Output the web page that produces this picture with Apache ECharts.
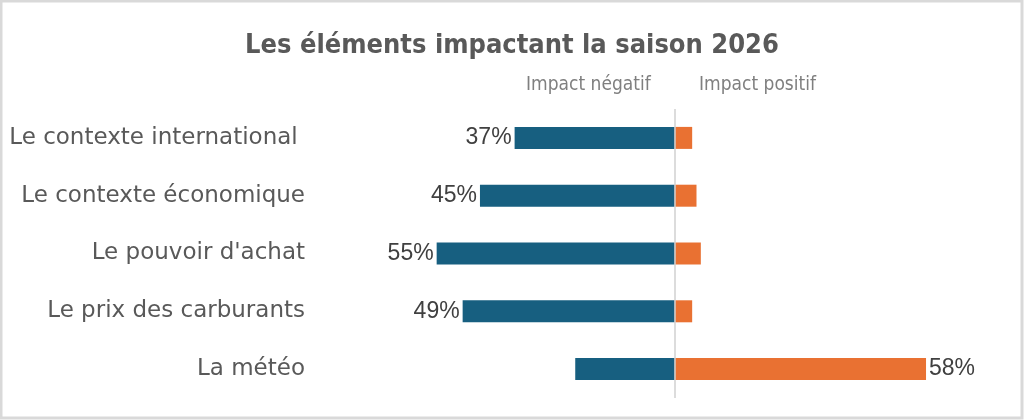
<!DOCTYPE html>
<html>
<head>
<meta charset="utf-8">
<script src="https://cdn.jsdelivr.net/npm/echarts@6/dist/echarts.min.js"></script>
<style>
  html, body { margin: 0; padding: 0; background: #fff; }
  #chart { width: 1024px; height: 420px; }
</style>
</head>
<body>
<div id="chart"></div>
<script>
// données
var categories = ['Le contexte international ', 'Le contexte économique', 'Le pouvoir d\'achat', 'Le prix des carburants', 'La météo'];
var negatifs = [37, 45, 55, 49, 23];
var positifs = [4, 5, 6, 4, 58];
// quelles étiquettes sont affichées
var etiquetteNeg = [true, true, true, true, false];
var etiquettePos = [false, false, false, false, true];

var chart = echarts.init(document.getElementById('chart'));

function pct(p) {
  return Math.abs(p.value) + '%';
}

chart.setOption({
  animation: false,
  backgroundColor: '#ffffff',
  title: [{
    text: 'Les éléments impactant la saison 2026',
    left: 'center',
    top: 32,
    padding: 0,
    textStyle: { fontFamily: 'DejaVu Sans Condensed', fontWeight: 'bold', fontSize: 27, color: '#595959' }
  }, {
    text: 'Impact négatif',
    left: 526,
    top: 76,
    padding: 0,
    textStyle: { fontFamily: 'DejaVu Sans Condensed', fontWeight: 'normal', fontSize: 19, color: '#7f7f7f' }
  }, {
    text: 'Impact positif',
    left: 699,
    top: 76,
    padding: 0,
    textStyle: { fontFamily: 'DejaVu Sans Condensed', fontWeight: 'normal', fontSize: 19, color: '#7f7f7f' }
  }],
  graphic: [{
    type: 'rect',
    shape: { x: 1, y: 1, width: 1021, height: 417 },
    style: { fill: 'none', stroke: '#d9d9d9', lineWidth: 3 },
    silent: true
  }],
  grid: { left: 415, right: 46, top: 109, bottom: 22 },
  xAxis: {
    type: 'value',
    min: -60,
    max: 70,
    show: false
  },
  yAxis: {
    type: 'category',
    data: categories,
    inverse: true,
    axisLine: { show: false },
    axisTick: { show: false },
    axisLabel: {
      margin: 110,
      fontFamily: 'DejaVu Sans',
      fontSize: 23,
      color: '#595959'
    }
  },
  series: [{
    name: 'Impact négatif',
    type: 'bar',
    stack: 'impact',
    barWidth: 22,
    itemStyle: { color: '#175f80' },
    label: {
      position: 'left',
      distance: 3,
      formatter: pct,
      fontFamily: 'Liberation Sans',
      fontSize: 23,
      color: '#404040'
    },
    data: negatifs.map(function (v, i) {
      return { value: -v, label: { show: etiquetteNeg[i] } };
    }),
    markLine: {
      silent: true,
      symbol: 'none',
      label: { show: false },
      lineStyle: { color: '#d0d0d0', width: 1.5, type: 'solid' },
      data: [{ xAxis: 0 }]
    }
  }, {
    name: 'Impact positif',
    type: 'bar',
    stack: 'impact',
    barWidth: 22,
    itemStyle: { color: '#e97132' },
    label: {
      position: 'right',
      distance: 3,
      formatter: pct,
      fontFamily: 'Liberation Sans',
      fontSize: 23,
      color: '#404040'
    },
    data: positifs.map(function (v, i) {
      return { value: v, label: { show: etiquettePos[i] } };
    })
  }]
});
</script>
</body>
</html>
